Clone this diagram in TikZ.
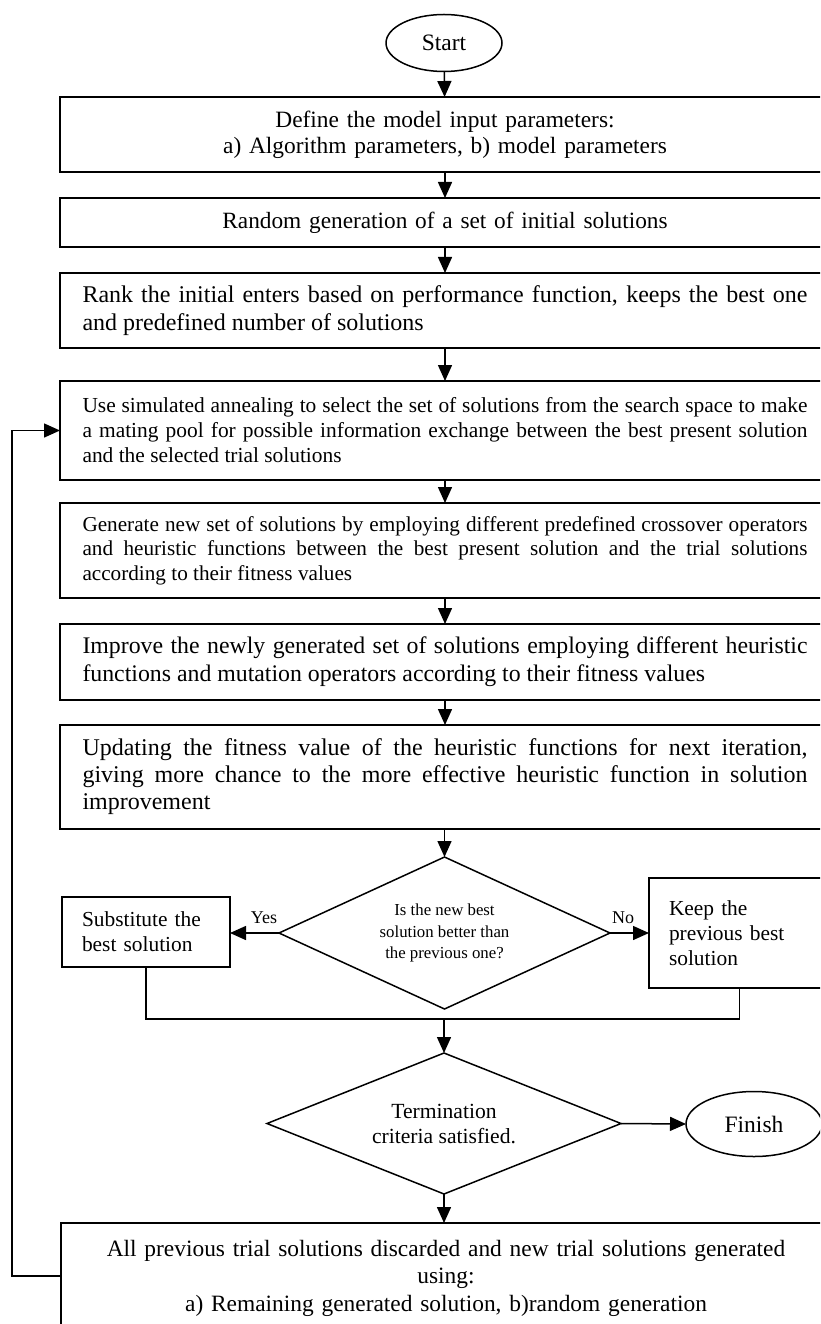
\documentclass[tikz,border=0pt]{standalone}
\usepackage{fontspec}
\setmainfont{Liberation Serif}
\usetikzlibrary{shapes.geometric,arrows.meta}
\hyphenpenalty=10000
\exhyphenpenalty=10000
\begin{document}
\begin{tikzpicture}[x=1pt,y=-1pt,
  stepbox/.style={draw, line width=1.5pt, rectangle, anchor=north west,
    minimum width=770pt, text width=725pt, inner sep=0pt, outer sep=0pt},
  sidebox/.style={draw, line width=1.5pt, rectangle, anchor=north west,
    inner sep=0pt, outer sep=0pt, align=left,
    font={\fontsize{21.4}{25}\selectfont}},
  decision/.style={draw, line width=1.5pt, diamond, inner sep=0pt, outer sep=0pt, align=center},
  terminal/.style={draw, line width=1.5pt, ellipse, inner sep=0pt, outer sep=0pt,
    font={\fontsize{23.5}{26}\selectfont}},
  conn/.style={line width=1.5pt, -{Triangle[length=16pt,width=14pt]}},
  plain/.style={line width=1.5pt},
  lbl/.style={inner sep=0pt, font={\fontsize{18}{21}\selectfont}}]
\useasboundingbox (0,0) rectangle (820,1324);
\clip (0,0) rectangle (820,1324);

\node[terminal, minimum width=116pt, minimum height=57pt] (start) at (444,43) {Start};

\node[stepbox, minimum height=75pt, align=center, font={\fontsize{23.4}{26}\selectfont}] (b1) at (60,97)
  {Define the model input parameters:\\ a) Algorithm parameters, b) model parameters};

\node[stepbox, minimum height=49pt, align=center, font={\fontsize{23.3}{27}\selectfont}] (b2) at (60,198)
  {Random generation of a set of initial solutions};

\node[stepbox, minimum height=75pt, align=justify, font={\fontsize{24}{28}\selectfont}] (b3) at (60,273)
  {Rank the initial enters based on performance function, keeps the best one\linebreak and predefined number of solutions};

\node[stepbox, minimum height=99pt, align=justify, font={\fontsize{21.4}{25}\selectfont}] (b4) at (60,381)
  {Use simulated annealing to select the set of solutions from the search space to make\linebreak a mating pool for possible information exchange between the best present solution\linebreak and the selected trial solutions};

\node[stepbox, minimum height=95pt, align=justify, font={\fontsize{21.2}{24.5}\selectfont}] (b5) at (60,503)
  {Generate new set of solutions by employing different predefined crossover operators\linebreak and heuristic functions between the best present solution and the trial solutions\linebreak according to their fitness values};

\node[stepbox, minimum height=76pt, align=justify, font={\fontsize{23.8}{28}\selectfont}] (b6) at (60,624)
  {Improve the newly generated set of solutions employing different heuristic\linebreak functions and mutation operators according to their fitness values};

\node[stepbox, minimum height=104pt, align=justify, font={\fontsize{24}{27}\selectfont}] (b7) at (60,725)
  {Updating the fitness value of the heuristic functions for next iteration,\linebreak giving more chance to the more effective heuristic function in solution\linebreak improvement};

\node[decision, shape aspect=2.18, minimum width=331pt, minimum height=152pt, font={\fontsize{16.8}{21.5}\selectfont}] (d1) at (444.5,933)
  {Is the new best\\ solution better than\\ the previous one?};

\node[sidebox, minimum width=168pt, minimum height=70pt, text width=128pt] (sub) at (62,897)
  {Substitute the\\ best solution};

\node[sidebox, minimum width=181pt, minimum height=110pt, text width=141pt] (keep) at (649,878)
  {Keep the\\ previous best\\ solution};

\node[lbl] (yes) at (264,918) {Yes};
\node[lbl] (no) at (623,918) {No};

\node[decision, shape aspect=2.51, minimum width=354pt, minimum height=141pt, font={\fontsize{21.6}{25}\selectfont}] (d2) at (444,1123.5)
  {Termination\\ criteria satisfied.};

\node[terminal, minimum width=136pt, minimum height=65pt] (fin) at (754,1124) {Finish};

\node[stepbox, minimum height=110pt, align=center, font={\fontsize{23.4}{27.5}\selectfont}] (last) at (61,1223)
  {All previous trial solutions discarded and new trial solutions generated\\ using:\\ a) Remaining generated solution, b)random generation};

\coordinate (m) at (444,1019);
\coordinate (lp) at (12,1276);

\draw[conn] (start) -- (b1);
\draw[conn] (b1) -- (b2);
\draw[conn] (b2) -- (b3);
\draw[conn] (b3) -- (b4);
\draw[conn] (b4) -- (b5);
\draw[conn] (b5) -- (b6);
\draw[conn] (b6) -- (b7);
\draw[conn] (b7.south -| d1.north) -- (d1.north);
\draw[conn] (d1.west) -- (d1.west -| sub.east);
\draw[conn] (d1.east) -- (d1.east -| keep.west);
\draw[plain] (sub.south) |- (m);
\draw[plain] (keep.south) |- (m);
\draw[conn] (m) -- (d2.north);
\draw[conn] (d2.east) -- (fin.west);
\draw[conn] (d2.south) -- (d2.south |- last.north);
\draw[conn] (last.west |- lp) -- (lp) |- (b4.west);
\end{tikzpicture}
\end{document}
